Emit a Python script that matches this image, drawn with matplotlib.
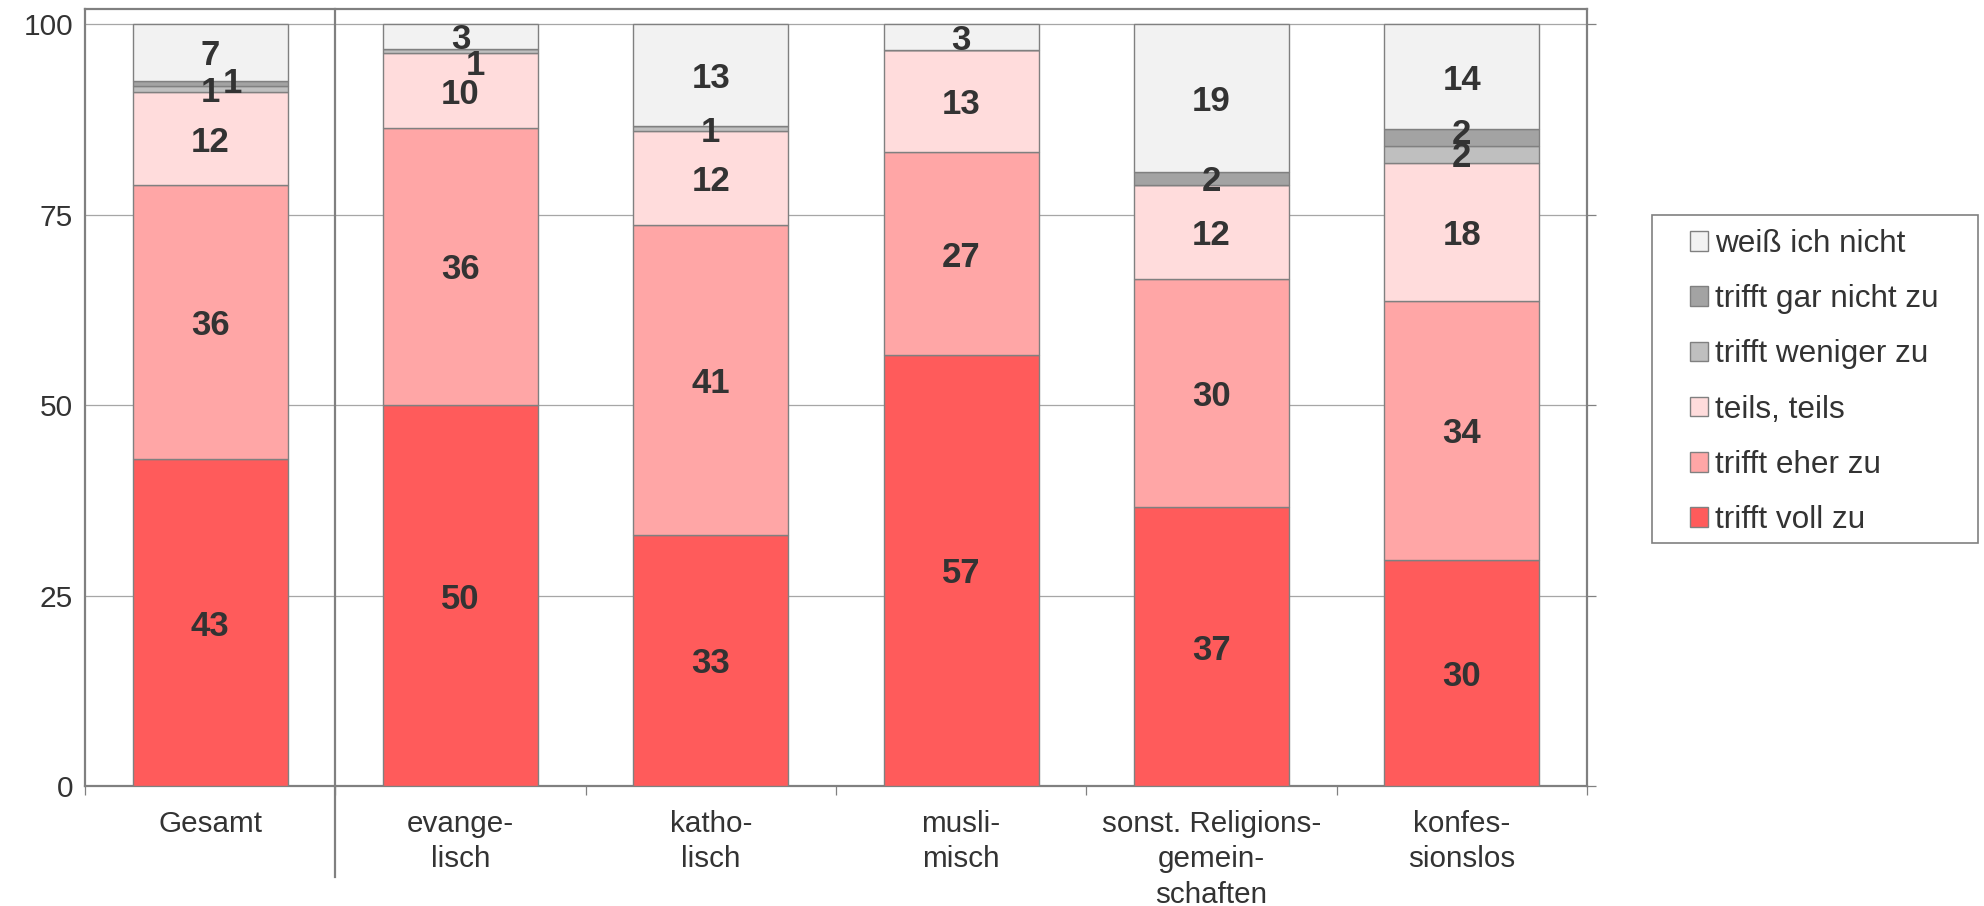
import matplotlib
matplotlib.use('Agg')
import matplotlib.pyplot as plt
from matplotlib.patches import Patch, Rectangle
import numpy as np

plt.rcParams['font.family'] = ['Liberation Sans', 'DejaVu Sans']

# data (percent), stacked from bottom to top
categories = ['Gesamt', 'evange-\nlisch', 'katho-\nlisch', 'musli-\nmisch',
              'sonst. Religions-\ngemein-\nschaften', 'konfes-\nsionslos']
voll     = [42.9, 50.0, 33.0, 56.6, 36.6, 29.7]
eher     = [36.0, 36.4, 40.6, 26.6, 29.9, 34.0]
teils    = [12.2,  9.8, 12.4, 13.4, 12.4, 18.1]
weniger  = [ 0.8,  0.6,  0.6,  0.0,  0.0,  2.2]
garnicht = [ 0.7,  0.0,  0.0,  0.0,  1.7,  2.2]
weiss    = [ 7.4,  3.2, 13.4,  3.4, 19.4, 13.8]

series_names = ['trifft voll zu', 'trifft eher zu', 'teils, teils',
                'trifft weniger zu', 'trifft gar nicht zu', 'weiß ich nicht']
series = [voll, eher, teils, weniger, garnicht, weiss]
colors = ['#FF5B5B', '#FFA6A6', '#FFDCDC', '#BFBFBF', '#A3A3A3', '#F2F2F2']

# label nudges (points) where excel moved overlapping labels
nudge = {(0, 4): (16, 2), (1, 3): (11, -8), (5, 4): (0, 4.5)}

grey = '#808080'
txt = '#333333'

fig = plt.figure(figsize=(19.84, 9.06), dpi=100)
ax = fig.add_axes([85/1984, 1-786/906, (1587-85)/1984, (786-9)/906])

x = np.arange(len(categories))
bottom = np.zeros(len(categories))
for i, (vals, col) in enumerate(zip(series, colors)):
    vals = np.array(vals)
    ax.bar(x, vals, bottom=bottom, width=0.62, color=col, edgecolor=grey,
           linewidth=1.0, zorder=3)
    for j, v in enumerate(vals):
        if v <= 0:
            continue
        dx, dy = nudge.get((j, i), (0, 0))
        ax.annotate(f'{v:.0f}', (x[j], bottom[j] + v/2), xytext=(dx, dy),
                    textcoords='offset points', ha='center',
                    va='center_baseline', fontsize=25, fontweight='bold',
                    color=txt, zorder=5)
    bottom += vals

ax.set_xlim(-0.5, len(categories) - 0.5)
ax.set_ylim(0, 102)
ax.set_yticks([0, 25, 50, 75, 100])
ax.yaxis.grid(True, color='#A6A6A6', linewidth=0.9, zorder=0)
ax.set_axisbelow(True)
ax.tick_params(axis='y', which='major', left=False, right=True, length=6.5,
               color=grey, width=0.9, labelsize=21.5, labelcolor=txt, pad=2)

ax.set_xticks(x)
ax.set_xticklabels(categories, fontsize=21.3, color=txt, linespacing=1.35)
ax.set_xticks(np.arange(-0.5, len(categories)), minor=True)
ax.tick_params(axis='x', which='major', length=0, pad=17)
ax.tick_params(axis='x', which='minor', length=6.5, color=grey, width=0.9)

for s in ax.spines.values():
    s.set_color(grey)
    s.set_linewidth(1.6)

# separator between Gesamt and the groups
ax.plot([0.5, 0.5], [1, -0.117], transform=ax.get_xaxis_transform(),
        color=grey, linewidth=1.6, clip_on=False, zorder=6)

# legend
handles = [Patch(facecolor=c, edgecolor=grey, linewidth=1.0)
           for c in colors][::-1]
fig.legend(handles, series_names[::-1], loc='upper left',
           bbox_to_anchor=(1690/1984, 1-229/906), frameon=False,
           fontsize=22.7, labelcolor=txt, handlelength=0.58, handleheight=0.58,
           handletextpad=0.2, labelspacing=0.8, borderpad=0, borderaxespad=0)
fig.patches.append(Rectangle((1652/1984, 1-543/906), (1978-1652)/1984,
                             (543-215)/906, transform=fig.transFigure,
                             facecolor='none', edgecolor=grey, linewidth=1.2))

plt.savefig('out.png', dpi=100)
